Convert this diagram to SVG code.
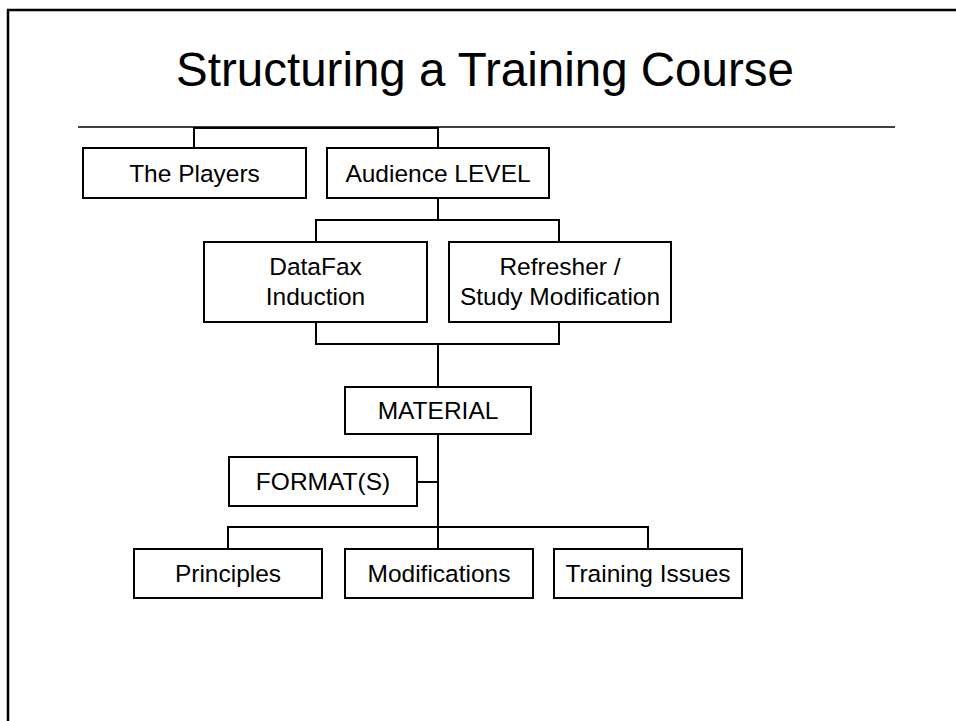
<svg xmlns="http://www.w3.org/2000/svg" width="956" height="721" viewBox="0 0 956 721">
<style>
.box{fill:#fff;stroke:#000;stroke-width:2}
.t{font-family:"Liberation Sans",Arial,sans-serif;font-size:24.5px;fill:#000;text-anchor:middle}
.c{fill:none;stroke:#000;stroke-width:2}
</style>
<rect x="0" y="0" width="956" height="721" fill="#fff"/>
<path d="M8,721 V10 H956" fill="none" stroke="#000" stroke-width="2.5"/>
<text x="485" y="86" font-family="Liberation Sans,Arial,sans-serif" font-size="47.5" text-anchor="middle">Structuring a Training Course</text>
<line x1="78" y1="127" x2="895" y2="127" stroke="#000" stroke-width="1.5"/>
<g id="connectors">
<path class="c" d="M194,148 V128 H438 V148"/>
<path class="c" d="M438,198 V220 M316,242 V220 H559 V242"/>
<path class="c" d="M316,322 V344 H559 V322 M438,344 V387"/>
<path class="c" d="M438,434 V549 M417,482 H438"/>
<path class="c" d="M228,549 V527 H648 V549"/>
</g>
<g id="players"><rect class="box" x="83" y="148" width="223" height="50"/><text class="t" x="194.5" y="182">The Players</text></g>
<g id="audience"><rect class="box" x="327" y="148" width="222" height="50"/><text class="t" x="438" y="182">Audience LEVEL</text></g>
<g id="datafax"><rect class="box" x="204" y="242" width="223" height="80"/><text class="t" x="315.5" y="275">DataFax</text><text class="t" x="315.5" y="305">Induction</text></g>
<g id="refresher"><rect class="box" x="449" y="242" width="222" height="80"/><text class="t" x="560" y="275">Refresher /</text><text class="t" x="560" y="305">Study Modification</text></g>
<g id="material"><rect class="box" x="345" y="387" width="186" height="47"/><text class="t" x="438" y="419">MATERIAL</text></g>
<g id="formats"><rect class="box" x="229" y="457" width="188" height="49"/><text class="t" x="323" y="490">FORMAT(S)</text></g>
<g id="principles"><rect class="box" x="134" y="549" width="188" height="49"/><text class="t" x="228" y="582">Principles</text></g>
<g id="modifications"><rect class="box" x="345" y="549" width="188" height="49"/><text class="t" x="439" y="582">Modifications</text></g>
<g id="issues"><rect class="box" x="554" y="549" width="188" height="49"/><text class="t" x="648" y="582">Training Issues</text></g>
</svg>
